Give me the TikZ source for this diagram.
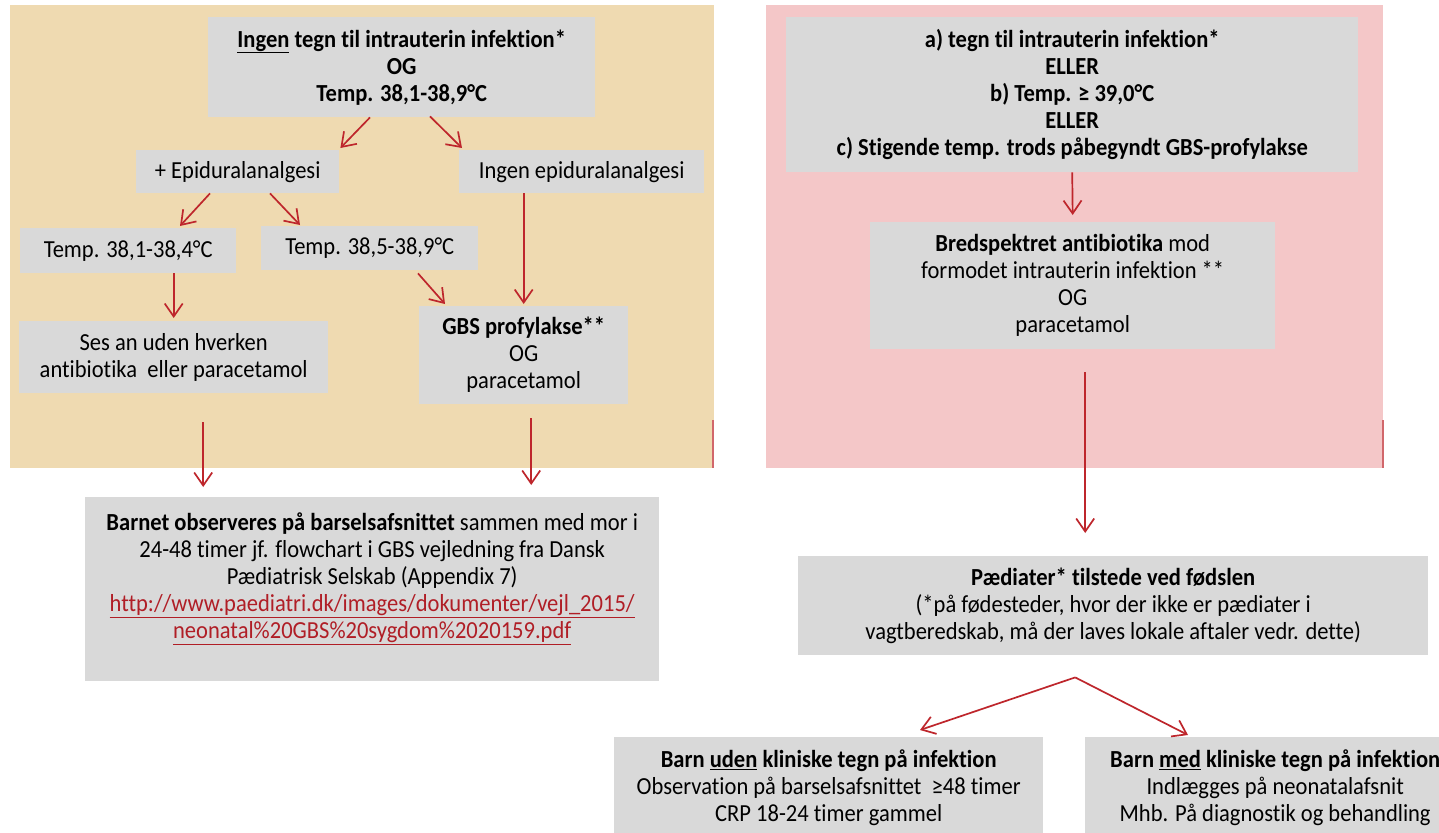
\documentclass[tikz,border=0pt]{standalone}
\usepackage{fontspec}
\setmainfont{Carlito}[FakeStretch=0.92,Ligatures=CommonOff]
\usetikzlibrary{arrows.meta,calc}
\definecolor{tanbg}{RGB}{239,218,177}
\definecolor{pinkbg}{RGB}{244,199,200}
\definecolor{boxgrey}{RGB}{217,217,217}
\definecolor{arrred}{RGB}{190,38,44}
\definecolor{linkred}{RGB}{176,30,38}
\newcommand{\myul}[1]{\underline{#1}}
\begin{document}
\begin{tikzpicture}[x=1pt,y=-1pt,
 box/.style={fill=boxgrey, anchor=north west, align=center, inner sep=0pt, font=\fontsize{24.5}{27}\selectfont},
 arr/.style={draw=arrred, line width=1.7pt, -{Straight Barb[length=13pt,width=18pt,line width=1.7pt]}},
 edgemark/.style={draw=arrred!70, line width=1.5pt}
]
\useasboundingbox (0,0) rectangle (1439,832);
\fill[white] (0,0) rectangle (1439,832);
\fill[tanbg] (10,5) rectangle (714,468);
\fill[pinkbg] (766,5) rectangle (1383,468);
\draw[edgemark] (713,420) -- (713,468);
\draw[edgemark] (1383,420) -- (1383,468);

% left panel
\node[box, minimum width=387pt, minimum height=100pt] (top) at (208,17)
 {\textbf{\myul{Ingen} tegn til intrauterin infektion*}\\ \textbf{OG}\\ \textbf{Temp. 38,1-38,9°C}};
\node[box, minimum width=203pt, minimum height=43pt] (epi) at (136,150) {+ Epiduralanalgesi};
\node[box, minimum width=245pt, minimum height=43pt] (ingen) at (459,150) {Ingen epiduralanalgesi};
\node[box, minimum width=216pt, minimum height=45pt] (t1) at (20,228) {Temp. 38,1-38,4°C};
\node[box, minimum width=217pt, minimum height=44pt] (t2) at (261,226) {Temp. 38,5-38,9°C};
\node[box, minimum width=309pt, minimum height=72pt] (ses) at (19,321) {Ses an uden hverken\\antibiotika\ \ eller paracetamol};
\node[box, minimum width=209pt, minimum height=98pt] (gbs) at (419,306) {\textbf{GBS profylakse**}\\OG\\paracetamol};
\node[box, minimum width=574pt, minimum height=184pt] (bottom) at (85,497)
 {\textbf{Barnet observeres på barselsafsnittet} sammen med mor i\\
  24-48 timer jf. flowchart i GBS vejledning fra Dansk\\
  Pædiatrisk Selskab (Appendix 7)\\
  \textcolor{linkred}{\myul{http://www.paediatri.dk/images/dokumenter/vejl\_2015/}}\\
  \textcolor{linkred}{\myul{neonatal\%20GBS\%20sygdom\%2020159.pdf}}\\ \mbox{}};

% right panel
\node[box, minimum width=572pt, minimum height=155pt] (rtop) at (786,17)
 {\textbf{a) tegn til intrauterin infektion*}\\ \textbf{ELLER}\\ \textbf{b) Temp. ≥ 39,0°C}\\ \textbf{ELLER}\\ \textbf{c) Stigende temp. trods påbegyndt GBS-profylakse}};
\node[box, minimum width=405pt, minimum height=127pt] (bred) at (870,222)
 {\textbf{Bredspektret antibiotika} mod\\ formodet intrauterin infektion **\\ OG\\ paracetamol};
\node[box, minimum width=630pt, minimum height=99pt] (paed) at (798,556)
 {\textbf{Pædiater* tilstede ved fødslen}\\ (*på fødesteder, hvor der ikke er pædiater i\\ vagtberedskab, må der laves lokale aftaler vedr. dette)};
\node[box, minimum width=429pt, minimum height=101pt] (uden) at (614,737)
 {\textbf{Barn \myul{uden} kliniske tegn på infektion}\\ Observation på barselsafsnittet\ \ ≥48 timer\\ CRP 18-24 timer gammel};
\node[box, minimum width=380pt, minimum height=101pt] (med) at (1085,737)
 {\textbf{Barn \myul{med} kliniske tegn på infektion}\\ Indlægges på neonatalafsnit\\ Mhb. På diagnostik og behandling};

% connectors
\draw[arr] ($(top.south west)+(162,0)$) -- ($(epi.north east)+(1,-2)$);
\draw[arr] ($(top.south west)+(222,-1)$) -- ($(ingen.north west)+(3,-2)$);
\draw[arr] ($(epi.south west)+(74,0)$) -- ($(t1.north west)+(160,-2)$);
\draw[arr] ($(epi.south west)+(134,0)$) -- ($(t2.north west)+(39,-1)$);
\draw[arr] (ses.north |- t1.south) -- ($(ses.north)+(0,-3)$);
\draw[arr] ($(t2.south west)+(157,3)$) -- ($(gbs.north west)+(26,-2)$);
\draw[arr] (gbs.north |- ingen.south) -- ($(gbs.north)+(0,-2)$);
\coordinate (s1) at ($(ses.south)+(29.5,29)$);
\draw[arr] (s1) -- ($(s1 |- bottom.north)+(0,-10)$);
\coordinate (g1) at ($(gbs.south)+(7.5,14)$);
\draw[arr] (g1) -- ($(g1 |- bottom.north)+(0,-12)$);
\draw[arr] (rtop.south) -- ($(bred.north)+(0,-7)$);
\coordinate (b1) at ($(bred.south)+(12.5,23)$);
\draw[arr] (b1) -- ($(b1 |- paed.north)+(0,-23)$);
\coordinate (apex) at ($(paed.south)+(-38,22)$);
\draw[arr] (apex) -- ($(uden.north west)+(306,-7)$);
\draw[arr] (apex) -- ($(med.north west)+(103,-2)$);
\end{tikzpicture}
\end{document}
